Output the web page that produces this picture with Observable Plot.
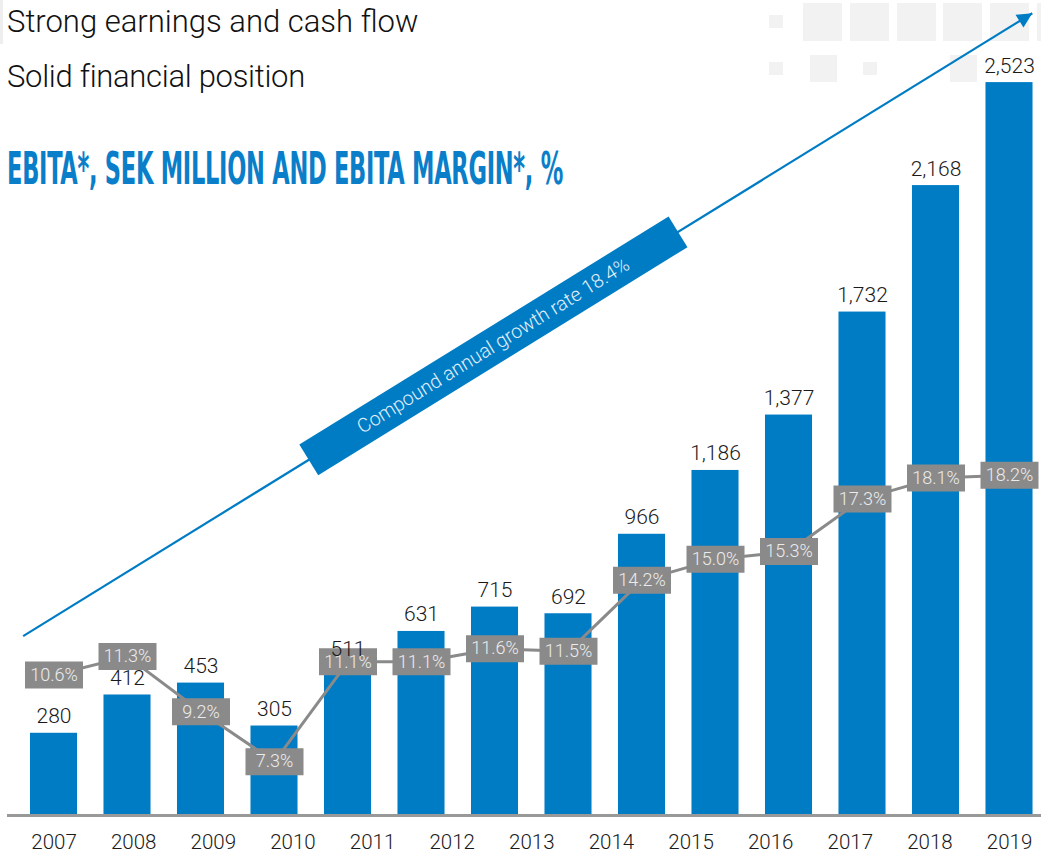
<!DOCTYPE html>
<html>
<head>
<meta charset="utf-8">
<script src="https://cdn.jsdelivr.net/npm/d3@7"></script>
<script src="https://cdn.jsdelivr.net/npm/@observablehq/plot@0.6"></script>
<style>
  html, body { margin: 0; padding: 0; background: #fff; }
  #wrap { position: relative; width: 1041px; height: 852px; overflow: hidden; font-family: Roboto, "Liberation Sans", sans-serif; }
  .sq { position: absolute; background: #f2f2f2; }
  .t { position: absolute; left: 7px; white-space: nowrap; line-height: 1; }
  #t1, #t2 { font-size: 31px; font-weight: 300; color: #111; }
  #t1 { top: 6px; }
  #t2 { top: 61px; letter-spacing: -0.3px; }
  #h1 { top: 146px; font-family: "Liberation Sans Narrow", "DejaVu Sans Condensed", sans-serif; font-weight: 700; font-size: 45px; color: #0a7ec8; transform-origin: 0 0; letter-spacing: -0.5px; }
  #chart { position: absolute; left: 0; top: 0; }
  #chart svg { font-family: Roboto, "Liberation Sans", sans-serif; font-weight: 300; }
</style>
</head>
<body>
<div id="wrap">
  <div class="sq" style="left:0;top:0;width:3px;height:44px;background:#eeeeee"></div>
  <div class="sq" style="left:769px;top:15px;width:14px;height:13px"></div>
  <div class="sq" style="left:803px;top:3px;width:39px;height:38px"></div>
  <div class="sq" style="left:850px;top:3px;width:39px;height:38px"></div>
  <div class="sq" style="left:897px;top:3px;width:39px;height:38px"></div>
  <div class="sq" style="left:943px;top:3px;width:39px;height:38px"></div>
  <div class="sq" style="left:990px;top:3px;width:39px;height:38px"></div>
  <div class="sq" style="left:1037px;top:3px;width:39px;height:38px"></div>
  <div class="sq" style="left:769px;top:62px;width:14px;height:13px"></div>
  <div class="sq" style="left:810px;top:55px;width:27px;height:27px"></div>
  <div class="sq" style="left:863px;top:62px;width:14px;height:13px"></div>
  <div class="sq" style="left:950px;top:55px;width:27px;height:27px"></div>
  <div id="chart"></div>
  <div class="t" id="t1">Strong earnings and cash flow</div>
  <div class="t" id="t2">Solid financial position</div>
  <div class="t" id="h1">EBITA*, SEK MILLION AND EBITA MARGIN*, %</div>
</div>
<script>
// ---- data ----
const years = ["2007","2008","2009","2010","2011","2012","2013","2014","2015","2016","2017","2018","2019"];
const ebita = [280, 412, 453, 305, 511, 631, 715, 692, 966, 1186, 1377, 1732, 2168, 2523];
const ebitaMargin = [10.6, 11.3, 9.2, 7.3, 11.1, 11.1, 11.6, 11.5, 14.2, 15.0, 15.3, 17.3, 18.1, 18.2];
const cagrLabel = "Compound annual growth rate 18.4%";
// trend arrow ends, in bar-index / SEK million units
const trendStart = { x: -0.42, y: 615 };
const trendEnd = { x: 13.31, y: 2762 };

// ---- styles ----
const BLUE = "#007cc5";
const GREY = "#8a8a8a";
const ANGLE = -31.7;

// margin (%) shown on its own scale, mapped into the bar units
const marginToY = d3.scaleLinear().domain([0, 20]).range([-479.3, 1332.5]);

const bars = ebita.map((v, i) => ({ i, v, label: d3.format(",")(v) }));
const margins = ebitaMargin.map((m, i) => ({ i, m, y: marginToY(m), label: m.toFixed(1) + "%" }));
const yearTicks = years.map((y, j) => ({ x: j * (ebita.length - 1) / (years.length - 1), label: y }));
const trend = [{ x1: trendStart.x, y1: trendStart.y, x2: trendEnd.x, y2: trendEnd.y }];
const t = 0.466;
const cagrBox = [{ x: trendStart.x + t * (trendEnd.x - trendStart.x), y: trendStart.y + t * (trendEnd.y - trendStart.y), label: cagrLabel }];

function rotPts(pts, deg) {
  const a = deg * Math.PI / 180, c = Math.cos(a), s = Math.sin(a);
  return pts.map(([x, y]) => [x * c - y * s, x * s + y * c]);
}
function polySymbol(pts) {
  return { draw(ctx) { ctx.moveTo(...pts[0]); for (const p of pts.slice(1)) ctx.lineTo(...p); ctx.closePath(); } };
}
const boxSymbol = polySymbol([[-29, -13.5], [29, -13.5], [29, 13.5], [-29, 13.5]]);
const cagrSymbol = polySymbol(rotPts([[-217, -18], [217, -18], [217, 18], [-217, 18]], ANGLE));
const headSymbol = polySymbol(rotPts([[0, 0], [-15, -7.5], [-15, 7.5]], ANGLE));

const chart = Plot.plot({
  width: 1041,
  height: 852,
  marginLeft: 7,
  marginRight: 0,
  marginTop: 0,
  marginBottom: 38,
  x: { domain: [0, 13], range: [53.5, 1009], axis: null },
  y: { domain: [0, 2806], axis: null },
  marks: [
    Plot.rect(bars, { x1: d => d.i - 0.32, x2: d => d.i + 0.32, y1: 0, y2: "v", fill: BLUE }),
    Plot.ruleY([0], { stroke: "#999999", strokeWidth: 3, dy: 1 }),
    Plot.link(trend, { x1: "x1", y1: "y1", x2: "x2", y2: "y2", stroke: BLUE, strokeWidth: 2.2 }),
    Plot.dot([trendEnd], { x: "x", y: "y", symbol: headSymbol, fill: BLUE, stroke: "none" }),
    Plot.dot(cagrBox, { x: "x", y: "y", symbol: cagrSymbol, fill: BLUE, stroke: "none" }),
    Plot.text(cagrBox, { x: "x", y: "y", text: "label", rotate: ANGLE, fontSize: 19.5, fill: "#e4f0fa" }),
    Plot.line(margins, { x: "i", y: "y", stroke: GREY, strokeWidth: 3 }),
    Plot.dot(margins, { x: "i", y: "y", symbol: boxSymbol, fill: GREY, stroke: "none" }),
    Plot.text(margins, { x: "i", y: "y", text: "label", fontSize: 18, fill: "#ececec" }),
    Plot.text(bars, { x: "i", y: "v", text: "label", dy: -10, lineAnchor: "bottom", fontSize: 21, fill: "#1a1a1a" }),
    Plot.text(yearTicks, { x: "x", y: 0, text: "label", dy: 34, lineAnchor: "bottom", fontSize: 20.5, fill: "#1a1a1a" })
  ]
});
document.getElementById("chart").appendChild(chart);

// fit the condensed heading to its width
const h1 = document.getElementById("h1");
const w = h1.getBoundingClientRect().width;
h1.style.transform = `scaleX(${556 / w})`;
</script>
</body>
</html>
